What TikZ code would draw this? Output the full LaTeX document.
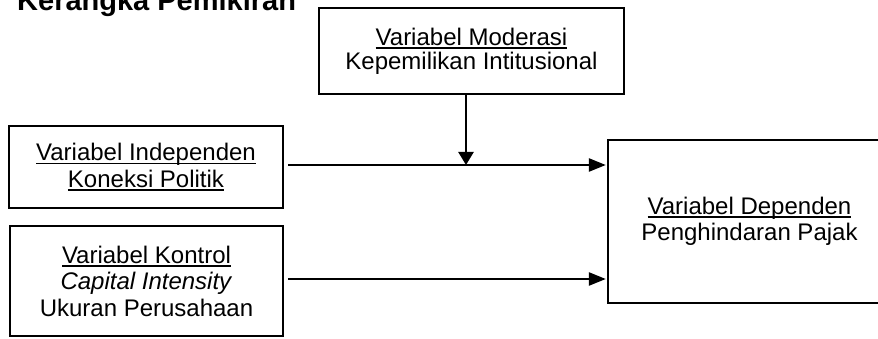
\documentclass[tikz,border=0pt]{standalone}
\usepackage{fontspec}
\setmainfont{Liberation Sans}
\usetikzlibrary{arrows.meta}
\newcommand\myul[1]{\setbox0\hbox{#1}\rlap{\rule[-3.6pt]{\wd0}{1.6pt}}\box0}
\begin{document}
\begin{tikzpicture}[x=1pt,y=-1pt,
  box/.style={draw,line width=2.3pt,align=center,inner sep=0pt,font=\fontsize{24}{26.5}\selectfont},
  arr/.style={line width=2.4pt,-{Triangle[length=17pt,width=13pt]}},
  arrdown/.style={line width=2.4pt,-{Triangle[length=13pt,width=15pt]}}]
\useasboundingbox (0,0) rectangle (878,339);
\clip (0,0) rectangle (878,339);
\node[font=\bfseries\fontsize{29}{32}\selectfont, anchor=base west, inner sep=0pt] (title) at (17,11) {Kerangka Pemikiran};
\node[box, minimum width=305pt, minimum height=86pt, font=\fontsize{24}{24}\selectfont] (mod) at (471.5,51) {\myul{Variabel Moderasi}\\Kepemilikan Intitusional};
\node[box, minimum width=274pt, minimum height=82pt] (ind) at (146,167) {\myul{Variabel Independen}\\\myul{Koneksi Politik}};
\node[box, minimum width=273pt, minimum height=110pt] (kon) at (146.5,281) {\myul{Variabel Kontrol}\\\textit{Capital Intensity}\\Ukuran Perusahaan};
\node[box, minimum width=283pt, minimum height=163pt] (dep) at (749.5,221.5) {\myul{Variabel Dependen}\\Penghindaran Pajak};
\coordinate (r1) at (0,165);
\coordinate (r2) at (0,279);
\coordinate (mx) at (466,0);
\coordinate (c) at (mx |- r1);
\draw[arr, shorten <=4pt, shorten >=1pt] (ind.east |- r1) -- (dep.west |- r1);
\draw[arr, shorten <=4pt, shorten >=1pt] (kon.east |- r2) -- (dep.west |- r2);
\draw[arrdown] (mod.south -| mx) -- (c);
\end{tikzpicture}
\end{document}
